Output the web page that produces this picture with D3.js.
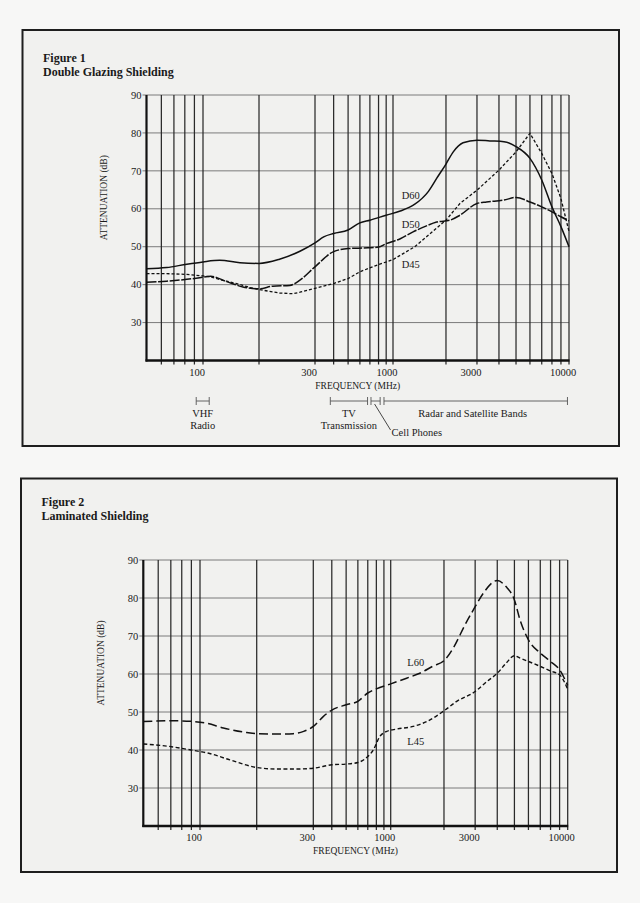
<!DOCTYPE html>
<html>
<head>
<meta charset="utf-8">
<script src="https://cdn.jsdelivr.net/npm/d3@7"></script>
<style>
  html, body { margin: 0; padding: 0; background: #f7f7f6; }
  svg { display: block; }
  text { font-family: "Liberation Serif", "DejaVu Serif", serif; fill: #1a1a1a; }
</style>
</head>
<body>
<svg id="chart" width="640" height="903"></svg>
<script>
// ---------------- DATA ----------------
const freqTickLabels = [100, 300, 1000, 3000, 10000];
const gridFreqs = [60, 70, 80, 90, 100, 200, 300, 400, 500, 600, 700, 800, 900,
                   1000, 2000, 3000, 4000, 5000, 6000, 7000, 8000, 9000, 10000];
const dbTicks = [30, 40, 50, 60, 70, 80, 90];

// Figure 1 - Double Glazing
const d60Freq = [50, 64, 82, 100, 123, 158, 200, 232, 269, 300, 343, 400, 500, 600, 700, 900, 1100, 1330, 1590, 1770, 2000, 2200, 2500, 3000, 3550, 4270, 5000, 6000, 7000, 8000, 9000, 10000];
const d60Db   = [44.2, 44.5, 45.4, 46.0, 46.4, 45.8, 45.6, 46.7, 48.8, 51.0, 52.6, 53.5, 54.4, 56.3, 57.0, 58.3, 59.4, 61.2, 64.6, 68.0, 71.8, 75.0, 77.4, 78.1, 77.9, 77.7, 76.4, 73.3, 67.6, 60.5, 55.3, 50.0];

const d50Freq = [50, 64, 82, 96, 110, 134, 164, 200, 221, 250, 269, 300, 400, 500, 680, 800, 900, 1100, 1300, 1550, 1770, 2110, 2400, 3000, 3400, 4270, 5000, 6000, 7000, 8000, 9000, 10000];
const d50Db   = [40.6, 40.9, 41.4, 41.8, 42.2, 40.8, 39.4, 38.9, 39.6, 39.8, 41.2, 44.7, 48.7, 49.5, 49.7, 49.9, 50.8, 52.1, 53.9, 55.5, 56.5, 57.0, 58.3, 61.4, 61.8, 62.3, 63.0, 61.8, 60.5, 59.2, 57.9, 56.8];

const d45Freq = [50, 64, 82, 100, 109, 120, 134, 150, 164, 180, 200, 232, 256, 269, 300, 400, 500, 600, 800, 1000, 1330, 1550, 2000, 2400, 3000, 4000, 5000, 6000, 7000, 8000, 9000, 10000];
const d45Db   = [42.9, 42.9, 42.7, 42.3, 42.1, 41.5, 40.9, 40.3, 39.8, 39.2, 38.7, 37.8, 37.6, 38.0, 39.0, 40.3, 41.6, 43.4, 45.3, 46.6, 50.0, 52.6, 57.0, 61.4, 64.9, 70.2, 75.0, 79.9, 74.6, 69.3, 62.7, 54.0];

// Figure 2 - Laminated
const l60Freq = [50, 72, 92, 107, 133, 177, 200, 231, 260, 280, 300, 350, 400, 500, 600, 700, 800, 1000, 1230, 1460, 1740, 2000, 2280, 2600, 3000, 3330, 4000, 4480, 5000, 5380, 6000, 7000, 8000, 9000, 10000];
const l60Db   = [47.5, 47.7, 47.5, 47.1, 45.8, 44.6, 44.3, 44.2, 44.3, 44.9, 46.2, 48.8, 50.5, 51.9, 52.8, 55.0, 56.1, 57.4, 58.9, 60.2, 62.1, 63.5, 67.2, 72.5, 77.7, 81.2, 84.6, 83.0, 79.5, 74.2, 69.0, 65.5, 63.3, 61.1, 57.0];

const l45Freq = [50, 72, 92, 110, 144, 200, 231, 266, 300, 400, 500, 600, 700, 763, 846, 940, 1080, 1340, 1600, 2000, 2360, 3000, 3490, 4000, 4480, 5000, 5380, 6000, 7000, 8000, 9000, 10000];
const l45Db   = [41.6, 40.8, 39.9, 39.2, 37.4, 35.4, 35.0, 35.0, 35.2, 36.1, 36.3, 36.7, 38.3, 40.0, 43.6, 44.9, 45.5, 46.2, 47.5, 50.3, 52.8, 55.4, 58.0, 60.2, 62.8, 64.8, 64.2, 63.3, 62.0, 60.8, 59.8, 56.0];

// Frequency bands (figure 1)
const bandNames = ["VHF|Radio", "TV|Transmission", "Cell Phones", "Radar and Satellite Bands"];
const bandLo = [92, 380, 712, 870];
const bandHi = [108, 675, 820, 9800];

// ---------------- DRAWING ----------------
const svg = d3.select("#chart");

function zip(fs, vs) { return fs.map((f, i) => ({ f: f, v: vs[i] })); }

function drawFigure(cfg) {
  const g = svg.append("g");

  // frame box
  g.append("rect")
    .attr("x", cfg.box[0]).attr("y", cfg.box[1])
    .attr("width", cfg.box[2]).attr("height", cfg.box[3])
    .attr("fill", "#f1f1ef").attr("stroke", "#1e1e1e").attr("stroke-width", 2);

  g.append("text").attr("x", cfg.titleX).attr("y", cfg.titleY)
    .attr("font-size", 12).attr("font-weight", "bold").text(cfg.title1);
  g.append("text").attr("x", cfg.titleX).attr("y", cfg.titleY + 13.5)
    .attr("font-size", 12).attr("font-weight", "bold").text(cfg.title2);

  // scales: piecewise log frequency axis
  const xs = d3.scaleLinear()
    .domain(cfg.xAnchors.map(Math.log10))
    .range(cfg.xPx);
  const x = f => xs(Math.log10(f));
  const y = d3.scaleLinear().domain([20, 90]).range([cfg.yBottom, cfg.yTop]);

  const x0 = x(50), x1 = x(10000), y0 = y(20), y1 = y(90);

  // horizontal grid
  g.append("g").selectAll("line").data(dbTicks).join("line")
    .attr("x1", x0 - 4).attr("x2", x1)
    .attr("y1", d => y(d)).attr("y2", d => y(d))
    .attr("stroke", "#6e6e6e").attr("stroke-width", 0.9);

  // vertical grid
  g.append("g").selectAll("line").data(gridFreqs).join("line")
    .attr("x1", d => x(d)).attr("x2", d => x(d))
    .attr("y1", y1).attr("y2", y0 + 4)
    .attr("stroke", "#2a2a2a").attr("stroke-width", 1.25);

  // axes
  g.append("line").attr("x1", x0).attr("x2", x0).attr("y1", y1).attr("y2", y0 + 1)
    .attr("stroke", "#111").attr("stroke-width", 2.2);
  g.append("line").attr("x1", x0 - 1).attr("x2", x1 + 0.5).attr("y1", y0).attr("y2", y0)
    .attr("stroke", "#111").attr("stroke-width", 2.6);

  // y tick labels
  g.append("g").selectAll("text").data(dbTicks).join("text")
    .attr("x", x0 - 5).attr("y", d => y(d)).attr("dy", "0.35em")
    .attr("text-anchor", "end").attr("font-size", 10.5).text(d => d);

  // x tick labels
  g.append("g").selectAll("text").data(freqTickLabels).join("text")
    .attr("x", d => x(d) - 6).attr("y", y0 + 15)
    .attr("text-anchor", "middle").attr("font-size", 10.5).text(d => d);

  // axis titles
  g.append("text").attr("x", (x0 + x1) / 2).attr("y", y0 + 28)
    .attr("text-anchor", "middle").attr("font-size", 9.5).text("FREQUENCY (MHz)");
  g.append("text")
    .attr("transform", `translate(${x0 - 43},${(y0 + y1) / 2 - 30}) rotate(-90)`)
    .attr("text-anchor", "middle").attr("dy", "0.35em")
    .attr("font-size", 9.5).text("ATTENUATION (dB)");

  // series
  cfg.series.forEach(s => {
    const line = d3.line().x(d => x(d.f)).y(d => y(d.v)).curve(s.curve);
    g.append("path").datum(zip(s.freq, s.db))
      .attr("d", line).attr("fill", "none")
      .attr("stroke", "#111").attr("stroke-width", s.width || 1.5)
      .attr("stroke-dasharray", s.dash || null);
    g.append("text").attr("x", x(s.labelAt[0])).attr("y", y(s.labelAt[1]))
      .attr("font-size", 10.5).text(s.name);
  });

  return { x, y, g, y0 };
}

const f1 = drawFigure({
  box: [22.5, 30, 596.5, 416],
  titleX: 43, titleY: 62,
  title1: "Figure 1", title2: "Double Glazing Shielding",
  xAnchors: [50, 100, 200, 300, 1000, 10000],
  xPx: [146.5, 203, 259, 315, 393, 569],
  yTop: 95, yBottom: 360.5,
  series: [
    { name: "D60", freq: d60Freq, db: d60Db, curve: d3.curveMonotoneX, labelAt: [1120, 62.5] },
    { name: "D50", freq: d50Freq, db: d50Db, curve: d3.curveMonotoneX, dash: "10,1.6", labelAt: [1120, 55] },
    { name: "D45", freq: d45Freq, db: d45Db, curve: d3.curveLinear, dash: "3,2", width: 1.3, labelAt: [1120, 44.5] }
  ]
});

const f2 = drawFigure({
  box: [21, 478.5, 596, 393.5],
  titleX: 41.5, titleY: 506,
  title1: "Figure 2", title2: "Laminated Shielding",
  xAnchors: [50, 100, 200, 300, 1000, 10000],
  xPx: [143.3, 200, 256.7, 313.3, 390.7, 567.7],
  yTop: 560, yBottom: 826,
  series: [
    { name: "L60", freq: l60Freq, db: l60Db, curve: d3.curveMonotoneX, dash: "9,4", labelAt: [1240, 62.2] },
    { name: "L45", freq: l45Freq, db: l45Db, curve: d3.curveMonotoneX, dash: "4,2.5", width: 1.4, labelAt: [1240, 41.2] }
  ]
});

// Frequency band brackets under figure 1
(function drawBands() {
  const x = f1.x, g = f1.g;
  const by = f1.y0 + 40.5;
  const bands = bandNames.map((n, i) => ({ name: n, lo: bandLo[i], hi: bandHi[i] }));
  const bg = g.append("g").attr("stroke", "#555").attr("stroke-width", 0.9);
  bands.forEach(b => {
    bg.append("line").attr("x1", x(b.lo)).attr("x2", x(b.hi)).attr("y1", by).attr("y2", by);
    bg.append("line").attr("x1", x(b.lo)).attr("x2", x(b.lo)).attr("y1", by - 4).attr("y2", by + 4);
    bg.append("line").attr("x1", x(b.hi)).attr("x2", x(b.hi)).attr("y1", by - 4).attr("y2", by + 4);
  });
  // labels
  [0, 1].forEach(i => {
    const b = bands[i], parts = b.name.split("|"), cx = (x(b.lo) + x(b.hi)) / 2;
    parts.forEach((p, j) => {
      g.append("text").attr("x", cx).attr("y", by + 15.5 + j * 12)
        .attr("text-anchor", "middle").attr("font-size", 10.5).text(p);
    });
  });
  const radar = bands[3];
  g.append("text").attr("x", (x(radar.lo) + x(radar.hi)) / 2 - 3).attr("y", by + 15.5)
    .attr("text-anchor", "middle").attr("font-size", 10.5).text(radar.name);
  const cell = bands[2];
  const cx = (x(cell.lo) + x(cell.hi)) / 2 - 1;
  g.append("line").attr("x1", cx).attr("y1", by + 3).attr("x2", cx + 16).attr("y2", by + 29)
    .attr("stroke", "#333").attr("stroke-width", 0.9);
  g.append("text").attr("x", cx + 17).attr("y", by + 34.5)
    .attr("font-size", 10.5).text(cell.name);
})();
</script>
</body>
</html>
